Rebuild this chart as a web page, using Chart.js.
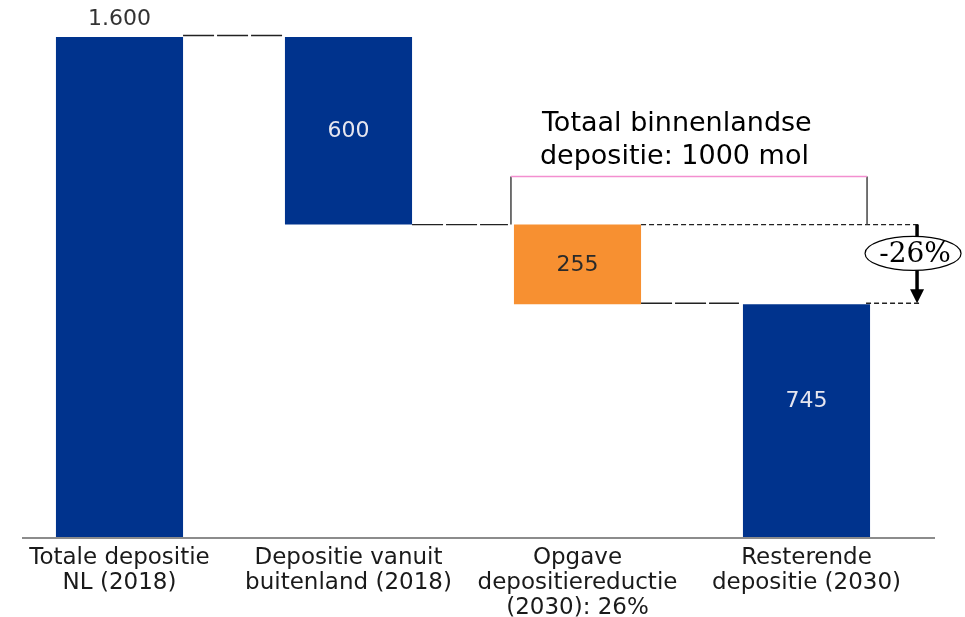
<!DOCTYPE html>
<html>
<head>
<meta charset="utf-8">
<script src="https://cdn.jsdelivr.net/npm/chart.js@4.4.1/dist/chart.umd.min.js"></script>
<style>
  html, body { margin: 0; padding: 0; background: #fff; }
  #wrap { width: 965px; height: 617px; overflow: hidden; }
</style>
</head>
<body>
<div id="wrap"><canvas id="depositie" width="965" height="617"></canvas></div>
<script>
const categories = [
    ['Totale depositie', 'NL (2018)'],
    ['Depositie vanuit', 'buitenland (2018)'],
    ['Opgave', 'depositiereductie', '(2030): 26%'],
    ['Resterende', 'depositie (2030)']
]
const values = [1600, 600, 255, 745]
const valueLabels = ['1.600', '600', '255', '745']
const barColors = ['#00338d', '#00338d', '#f79031', '#00338d']
const annotationText = ['Totaal binnenlandse', 'depositie: 1000 mol']
const reductionLabel = '-26%'

// waterfall: total, two decrements, remaining
let running = values[0]
const ranges = [[0, values[0]]]
for (let i = 1; i < values.length - 1; i++) {
    ranges.push([running - values[i], running])
    running -= values[i]
}
ranges.push([0, values[values.length - 1]])

const waterfallExtras = {
    id: 'waterfallExtras',
    afterDatasetsDraw(chart) {
        const ctx = chart.ctx
        const y = chart.scales.y
        const bars = chart.getDatasetMeta(0).data
        const left = b => b.x - b.width / 2
        const right = b => b.x + b.width / 2

        const yTop = y.getPixelForValue(ranges[0][1])
        const yDom = y.getPixelForValue(ranges[1][0])
        const yRest = y.getPixelForValue(ranges[2][0])
        const yBase = y.getPixelForValue(0)
        const arrowX = right(bars[3]) + 47

        ctx.save()

        // base line
        ctx.strokeStyle = '#8c8c8c'
        ctx.lineWidth = 2
        ctx.beginPath()
        ctx.moveTo(22, yBase + 1)
        ctx.lineTo(935, yBase + 1)
        ctx.stroke()

        function line(x1, y1, x2, y2, dash, color, w) {
            ctx.strokeStyle = color || '#222'
            ctx.lineWidth = w || 1.3
            ctx.setLineDash(dash || [])
            ctx.beginPath()
            ctx.moveTo(x1, y1)
            ctx.lineTo(x2, y2)
            ctx.stroke()
            ctx.setLineDash([])
        }

        // connectors
        const longDash = [31, 3]
        const shortDash = [5, 3]
        line(right(bars[0]), yTop - 1.5, left(bars[1]), yTop - 1.5, longDash)
        line(right(bars[1]), yDom, left(bars[2]) - 6, yDom, longDash)
        line(right(bars[2]), yDom, arrowX + 4, yDom, shortDash)
        line(right(bars[2]), yRest - 1, left(bars[3]) - 4, yRest - 1, longDash)
        line(right(bars[3]) - 4, yRest - 1, arrowX + 4, yRest - 1, shortDash)

        // bracket
        const bL = left(bars[2]) - 3
        const bR = right(bars[3]) - 3
        const bTop = yDom - 48
        line(bL, bTop, bL, yDom, null, '#444', 1.5)
        line(bR, bTop, bR, yDom, null, '#444', 1.5)
        line(bL, bTop, bR, bTop, null, '#f38fd0', 1.5)

        // annotation text
        ctx.fillStyle = '#000'
        ctx.font = '27px "DejaVu Sans"'
        ctx.textAlign = 'left'
        ctx.textBaseline = 'middle'
        ctx.fillText(annotationText[0], left(bars[2]) + 28, bTop - 53)
        ctx.fillText(annotationText[1], left(bars[2]) + 26, bTop - 20)

        // value labels
        ctx.textAlign = 'center'
        ctx.font = '22px "DejaVu Sans"'
        ctx.fillStyle = '#333'
        ctx.fillText(valueLabels[0], bars[0].x, yTop - 18)
        const inner = ['#e6e6ef', '#2a2a2a', '#e6e6ef']
        const shift = [0, 0, -20]
        for (let i = 1; i < bars.length; i++) {
            const b = bars[i]
            ctx.fillStyle = inner[i - 1]
            ctx.fillText(valueLabels[i], b.x, (b.y + b.base) / 2 + 1 + shift[i - 1])
        }

        // reduction arrow
        line(arrowX, yDom, arrowX, yRest - 14, null, '#000', 3.5)
        ctx.fillStyle = '#000'
        ctx.beginPath()
        ctx.moveTo(arrowX - 7, yRest - 15)
        ctx.lineTo(arrowX + 7, yRest - 15)
        ctx.lineTo(arrowX, yRest - 1)
        ctx.closePath()
        ctx.fill()

        const ey = (yDom + yRest) / 2 - 11
        ctx.fillStyle = '#fff'
        ctx.strokeStyle = '#000'
        ctx.lineWidth = 1.2
        ctx.beginPath()
        ctx.ellipse(arrowX - 4, ey, 48, 17, 0, 0, Math.PI * 2)
        ctx.fill()
        ctx.stroke()
        ctx.fillStyle = '#000'
        ctx.font = '28px "DejaVu Serif"'
        ctx.fillText(reductionLabel, arrowX - 2, ey + 1)

        ctx.restore()
    }
}

new Chart(document.getElementById('depositie').getContext('2d'), {
    type: 'bar',
    data: {
        labels: categories,
        datasets: [{
            data: ranges,
            backgroundColor: barColors,
            borderWidth: 0,
            barPercentage: 1,
            categoryPercentage: 0.555
        }]
    },
    options: {
        responsive: false,
        animation: false,
        layout: { padding: { left: 5, right: 44, top: 37, bottom: -12 } },
        plugins: {
            legend: { display: false },
            tooltip: { enabled: false }
        },
        scales: {
            x: {
                grid: { display: false, drawTicks: false },
                border: { display: false },
                ticks: {
                    color: '#1a1a1a',
                    padding: 8,
                    maxRotation: 0,
                    autoSkip: false,
                    font: { family: '"DejaVu Sans"', size: 23, lineHeight: 1.1 }
                }
            },
            y: {
                display: false,
                min: 0,
                max: 1600
            }
        }
    },
    plugins: [waterfallExtras]
})
</script>
</body>
</html>
